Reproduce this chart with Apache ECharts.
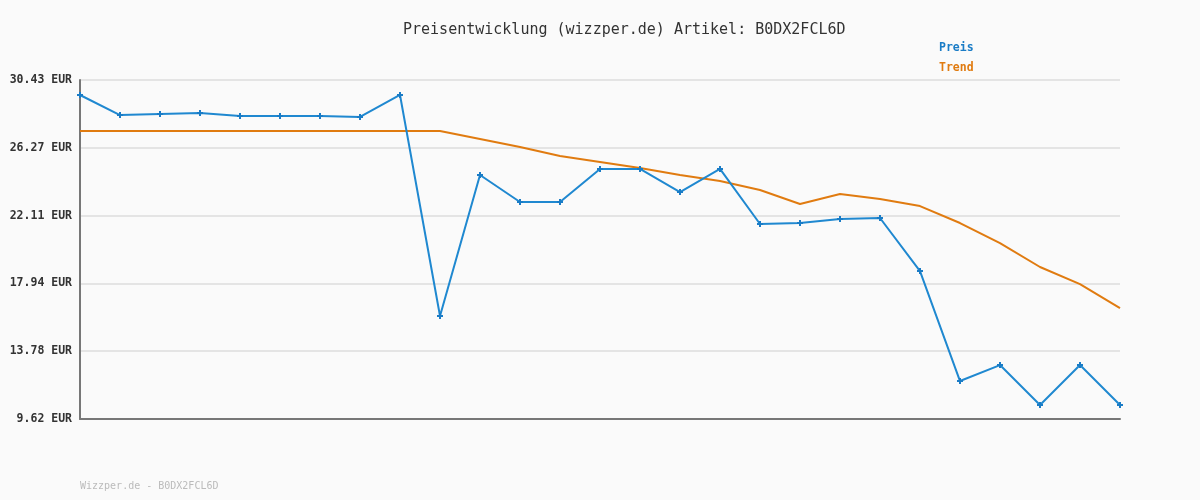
<!DOCTYPE html>
<html><head><meta charset="utf-8">
<script src="https://cdn.jsdelivr.net/npm/echarts@6/dist/echarts.min.js"></script>
<style>html,body{margin:0;padding:0;background:#fafafa}#c{width:1200px;height:500px}</style>
</head><body><div id="c"></div>
<script>
const categories = ["1","2","3","4","5","6","7","8","9","10","11","12","13","14","15","16","17","18","19","20","21","22","23","24","25","26","27"];
const preis = [29.51,28.28,28.34,28.40,28.22,28.22,28.22,28.16,29.51,15.94,24.60,22.94,22.94,24.97,24.97,23.55,24.97,21.59,21.65,21.90,21.96,18.70,11.95,12.93,10.48,12.93,10.48];
const trend = [27.30,27.30,27.30,27.30,27.30,27.30,27.30,27.30,27.30,27.30,26.81,26.32,25.77,25.40,25.03,24.60,24.23,23.68,22.82,23.43,23.12,22.69,21.65,20.42,18.95,17.90,16.43];
const yMin = 9.62, yMax = 30.43;
const font = "'DejaVu Sans Mono', 'Liberation Mono', monospace";
const chart = echarts.init(document.getElementById('c'));
chart.setOption({
  backgroundColor: '#fafafa',
  animation: false,
  title: { text: 'Preisentwicklung (wizzper.de) Artikel: B0DX2FCL6D', left: 398, top: 18,
    textStyle: { fontFamily: font, fontSize: 15, fontWeight: 'normal', color: '#333' } },
  legend: { orient: 'vertical', left: 929, top: 37, itemGap: 8, itemWidth: 0, itemHeight: 0, icon: 'none',
    selectedMode: false,
    data: [ { name: 'Preis', textStyle: { color: '#1a7cc6' } }, { name: 'Trend', textStyle: { color: '#e07b10' } } ],
    textStyle: { fontFamily: font, fontSize: 11.5, fontWeight: 'bold', padding: 0 } },
  graphic: [{ type: 'text', left: 80, top: 481, style: { text: 'Wizzper.de - B0DX2FCL6D', fill: '#bbb', font: '10px ' + font } }],
  grid: { left: 80, right: 80, top: 80, bottom: 81, containLabel: false },
  xAxis: { type: 'category', data: categories, boundaryGap: false,
    axisLine: { lineStyle: { color: '#777', width: 2 } }, axisTick: { show: false }, axisLabel: { show: false }, splitLine: { show: false } },
  yAxis: { type: 'value', min: yMin, max: yMax, interval: (yMax - yMin) / 5,
    axisLine: { show: true, lineStyle: { color: '#777', width: 2 } }, axisTick: { show: false },
    axisLabel: { formatter: v => v.toFixed(2) + ' EUR', fontFamily: font, fontSize: 11.5, fontWeight: 'bold', color: '#333', margin: 8 },
    splitLine: { lineStyle: { color: '#e4e4e4', width: 2 } } },
  series: [
    { name: 'Preis', type: 'line', data: preis, z: 3,
      symbol: 'path://M-1,-3L1,-3L1,-1L3,-1L3,1L1,1L1,3L-1,3L-1,1L-3,1L-3,-1L-1,-1Z', symbolSize: 6, showAllSymbol: true,
      itemStyle: { color: '#1a7cc6' }, lineStyle: { color: '#1f88d0', width: 2 } },
    { name: 'Trend', type: 'line', data: trend, z: 2, symbol: 'none',
      itemStyle: { color: '#e07b10' }, lineStyle: { color: '#e07b10', width: 2 } }
  ]
});
</script></body></html>
